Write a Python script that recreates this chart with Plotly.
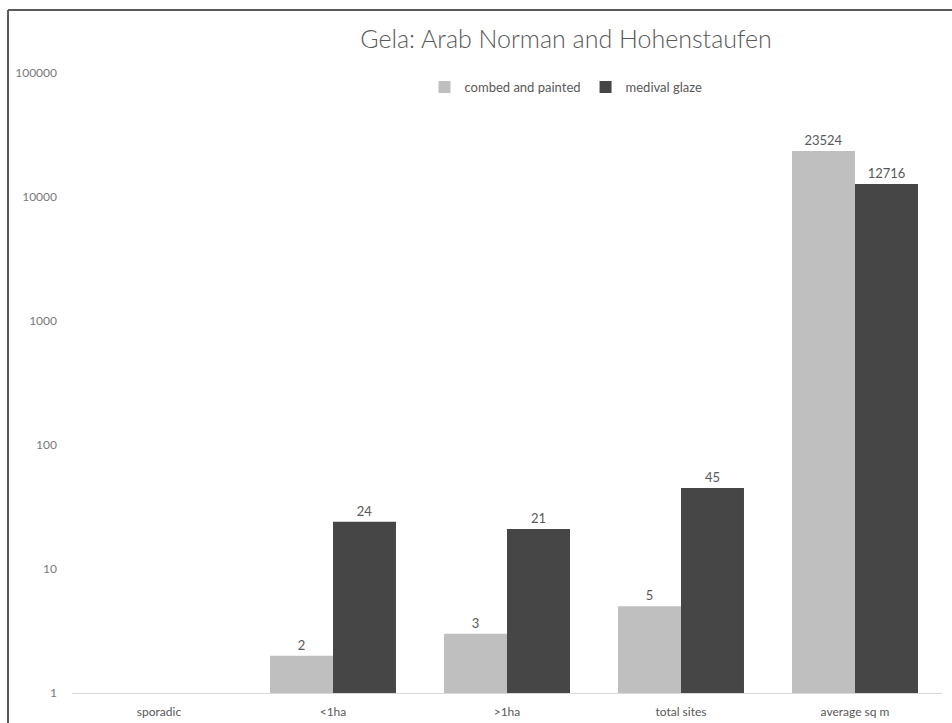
import plotly.graph_objects as go

# Site counts and average area by category, two pottery types
categories = ["sporadic", "<1ha", ">1ha", "total sites", "average sq m"]
combed_painted = [None, 2, 3, 5, 23524]
medival_glaze = [None, 24, 21, 45, 12716]

y_tickvals = [1, 10, 100, 1000, 10000, 100000]
y_ticktext = ["1", "10", "100", "1000", "10000", "100000"]

W, H = 952, 723
ML, MR, MT, MB = 72, 10, 73, 30
PW, PH = W - ML - MR, H - MT - MB


def px_x(x):
    return (x - ML) / PW


def px_y(y):
    return (H - MB - y) / PH


def labels(vals):
    return ["" if v is None else str(v) for v in vals]


fig = go.Figure()
fig.add_trace(go.Bar(
    name="combed and painted", x=categories, y=combed_painted,
    marker=dict(color="#bfbfbf", line=dict(width=0)),
    text=labels(combed_painted), textposition="outside",
    textfont=dict(family="Lato", size=13, color="#595959"),
    cliponaxis=False,
))
fig.add_trace(go.Bar(
    name="medival glaze", x=categories, y=medival_glaze,
    marker=dict(color="#464646", line=dict(width=0)),
    text=labels(medival_glaze), textposition="outside",
    textfont=dict(family="Lato", size=13, color="#595959"),
    cliponaxis=False,
))

# outer frame (left and top edges)
frame_color = "#5a5a5a"
fig.add_shape(type="line", xref="paper", yref="paper",
              x0=px_x(8), x1=px_x(8), y0=px_y(H), y1=px_y(10),
              line=dict(color=frame_color, width=2))
fig.add_shape(type="line", xref="paper", yref="paper",
              x0=px_x(8), x1=px_x(W), y0=px_y(10), y1=px_y(10),
              line=dict(color=frame_color, width=2))

fig.update_layout(
    width=W, height=H,
    margin=dict(l=ML, r=MR, t=MT, b=MB, autoexpand=False),
    paper_bgcolor="white", plot_bgcolor="white",
    barmode="group", bargap=0.276, bargroupgap=0,
    font=dict(family="Lato", color="#595959"),
    title=dict(text="Gela: Arab Norman and Hohenstaufen",
               font=dict(family="Lato", size=25, weight=300, color="#595959"),
               x=px_x(566), xref="paper", xanchor="center",
               y=1 - 39 / H, yref="container", yanchor="middle"),
    legend=dict(orientation="h", x=px_x(566), xanchor="center",
                y=px_y(87), yanchor="middle",
                font=dict(family="Lato", size=13, color="#595959"),
                itemwidth=30, bgcolor="rgba(0,0,0,0)"),
    xaxis=dict(showline=True, linecolor="#d9d9d9", linewidth=1,
               showgrid=False, ticks="", automargin=False,
               ticklabelstandoff=8,
               tickfont=dict(family="Lato", size=12, color="#595959")),
    yaxis=dict(type="log", range=[0, 5], showgrid=False, zeroline=False,
               showline=False, ticks="", automargin=False,
               tickvals=y_tickvals, ticktext=y_ticktext,
               ticklabelstandoff=14,
               tickfont=dict(family="Lato", size=12, color="#7a7a7a")),
)

fig.write_html("out.html")
